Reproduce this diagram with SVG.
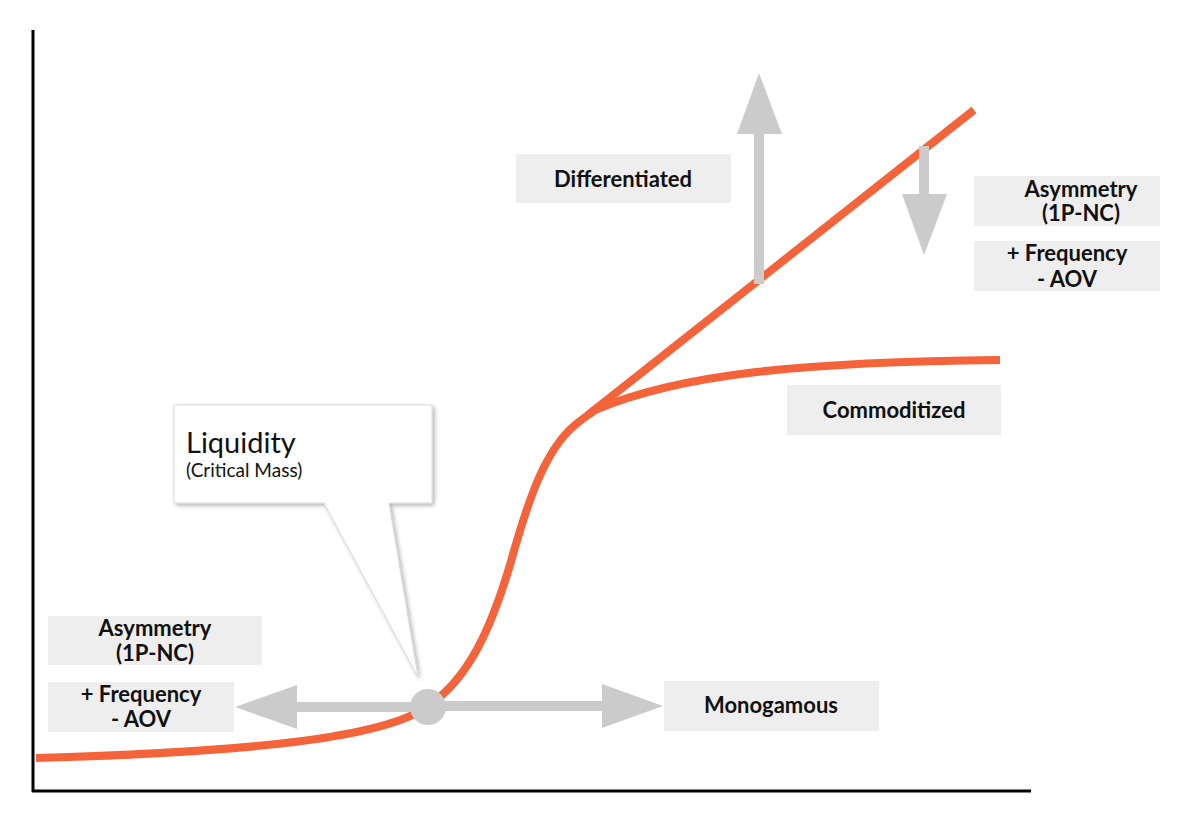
<svg xmlns="http://www.w3.org/2000/svg" width="1200" height="817" viewBox="0 0 1200 817">
<defs>
<style>
.lbl{fill:#eeeeee}
.t{font-family:Lato,"Liberation Sans",sans-serif;font-weight:700;font-size:22px;fill:#111;text-anchor:middle}
.curve{fill:none;stroke:#f5633a;stroke-width:8;stroke-linecap:butt}
.garrow{fill:#cbcbcb}
</style>
<filter id="sh" x="-10%" y="-10%" width="130%" height="130%">
<feDropShadow dx="2" dy="2" stdDeviation="2" flood-color="#000" flood-opacity="0.3"/>
</filter>
</defs>
<rect width="1200" height="817" fill="#fff"/>
<g id="axes" stroke="#000" stroke-width="3" fill="none">
<line x1="33" y1="30" x2="33" y2="792"/>
<line x1="32" y1="791" x2="1031" y2="791"/>
</g>
<g id="connectors">
<path class="curve" d="M36,758 C250,752 385,738 428,706 C470,678 492,625 510,565 C528,500 545,450 575,425 C585,417 592,412 598,408"/>
<path class="curve" d="M588,415 L974,110"/>
<path class="curve" d="M595,410 C680,374 800,362 1000,360"/>
<rect class="garrow" x="754" y="132" width="10" height="152"/>
<polygon class="garrow" points="759,73 782,134 737,134"/>
<rect class="garrow" x="919" y="146" width="10" height="50"/>
<polygon class="garrow" points="902,194 947,194 924,255"/>
<rect class="garrow" x="295" y="702" width="135" height="10"/>
<polygon class="garrow" points="235,707 297,685 297,729"/>
<rect class="garrow" x="428" y="701" width="176" height="10"/>
<polygon class="garrow" points="602,684 663,706 602,728"/>
<circle class="garrow" cx="428" cy="707" r="18"/>
</g>
<g id="liquidity">
<path d="M174,405 H432 V503 H389 L418,677 L324,503 H174 Z" fill="#fff" stroke="#d8d8d8" stroke-width="1" filter="url(#sh)"/>
<text x="186" y="453" style="font-family:Lato,'Liberation Sans',sans-serif;font-size:29px;fill:#111">Liquidity</text>
<text x="186" y="477" style="font-family:Lato,'Liberation Sans',sans-serif;font-size:19px;fill:#111">(Critical Mass)</text>
</g>
<g id="differentiated">
<rect class="lbl" x="516" y="154" width="215" height="49"/>
<text class="t" x="623" y="187">Differentiated</text>
</g>
<g id="asym-right">
<rect class="lbl" x="974" y="176" width="186" height="50"/>
<text class="t" x="1081" y="197">Asymmetry</text>
<text class="t" x="1081" y="221">(1P-NC)</text>
</g>
<g id="freq-right">
<rect class="lbl" x="974" y="241" width="186" height="50"/>
<text class="t" x="1067" y="261">+ Frequency</text>
<text class="t" x="1067" y="287">- AOV</text>
</g>
<g id="commoditized">
<rect class="lbl" x="787" y="385" width="214" height="50"/>
<text class="t" x="894" y="418">Commoditized</text>
</g>
<g id="asym-left">
<rect class="lbl" x="48" y="616" width="214" height="49"/>
<text class="t" x="155" y="636">Asymmetry</text>
<text class="t" x="155" y="661">(1P-NC)</text>
</g>
<g id="freq-left">
<rect class="lbl" x="48" y="682" width="186" height="50"/>
<text class="t" x="141" y="702">+ Frequency</text>
<text class="t" x="141" y="727">- AOV</text>
</g>
<g id="monogamous">
<rect class="lbl" x="664" y="681" width="215" height="50"/>
<text class="t" x="771" y="713">Monogamous</text>
</g>
</svg>
